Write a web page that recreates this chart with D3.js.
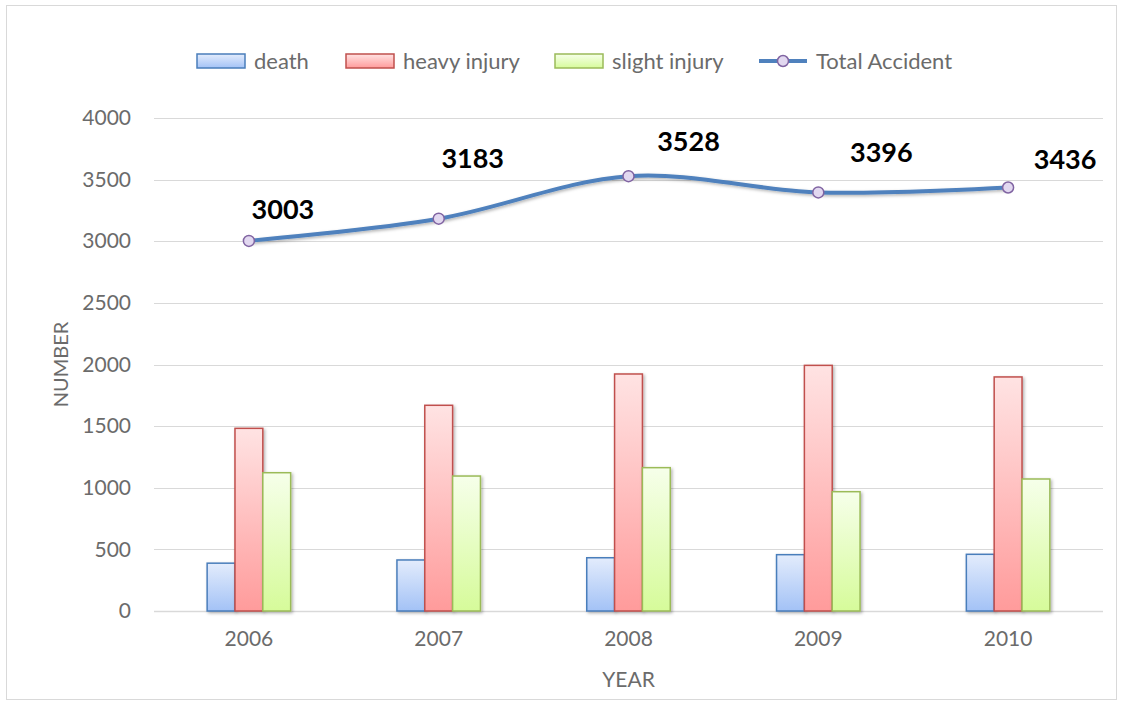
<!DOCTYPE html>
<html>
<head>
<meta charset="utf-8">
<script src="https://cdn.jsdelivr.net/npm/d3@7"></script>
<style>
  body { margin: 0; background: #fff; }
  svg text { font-family: Lato, "Open Sans", sans-serif; }
</style>
</head>
<body>
<svg id="chart" width="1124" height="703"></svg>
<script>
// chart data
const years = ["2006", "2007", "2008", "2009", "2010"];
const death = [388, 414, 432, 457, 460];
const heavyInjury = [1482, 1669, 1923, 1993, 1899];
const slightInjury = [1122, 1095, 1163, 968, 1071];
const totalAccident = [3003, 3183, 3528, 3396, 3436];
const yTicks = [0, 500, 1000, 1500, 2000, 2500, 3000, 3500, 4000];

const seriesNames = ["death", "heavy injury", "slight injury"];
const seriesValues = [death, heavyInjury, slightInjury];

const svg = d3.select("#chart");
const margin = { top: 118, right: 21, bottom: 92, left: 154 },
    width = 1124 - margin.left - margin.right,
    height = 703 - margin.top - margin.bottom;

// outer chart border
svg.append("rect")
    .attr("x", 6.5).attr("y", 5.5)
    .attr("width", 1110).attr("height", 694)
    .attr("fill", "#fff")
    .attr("stroke", "#d9d9d9");

const defs = svg.append("defs");
const palettes = [
    { id: "gDeath", top: "#e3ecfc", bottom: "#a3c2f6", stroke: "#4a7ebb" },
    { id: "gHeavy", top: "#ffe3e3", bottom: "#ff9b9b", stroke: "#c0504d" },
    { id: "gSlight", top: "#f6ffea", bottom: "#d6fb9a", stroke: "#9bbb59" }
];
palettes.forEach(p => {
    const g = defs.append("linearGradient").attr("id", p.id)
        .attr("x1", 0).attr("y1", 0).attr("x2", 0).attr("y2", 1);
    g.append("stop").attr("offset", "0%").attr("stop-color", p.top);
    g.append("stop").attr("offset", "100%").attr("stop-color", p.bottom);
});
const shadow = defs.append("filter").attr("id", "shadow")
    .attr("x", "-20%").attr("y", "-20%").attr("width", "150%").attr("height", "150%");
shadow.append("feDropShadow").attr("dx", 1.5).attr("dy", 1.5).attr("stdDeviation", 1.5)
    .attr("flood-color", "#000").attr("flood-opacity", 0.3);

const g = svg.append("g").attr("transform", `translate(${margin.left},${margin.top})`);

const x = d3.scaleBand().domain(years).range([0, width]);
const y = d3.scaleLinear().domain([0, 4000]).range([height, 0]);

// gridlines
g.selectAll("line.grid")
    .data(yTicks)
    .join("line")
    .attr("class", "grid")
    .attr("x1", 0).attr("x2", width)
    .attr("y1", d => Math.round(y(d)) + 0.5).attr("y2", d => Math.round(y(d)) + 0.5)
    .attr("stroke", "#d9d9d9")
    .attr("stroke-width", d => d === 0 ? 1.5 : 1);

// y axis labels
const yAxis = g.append("g")
    .call(d3.axisLeft(y).tickValues(yTicks).tickFormat(d3.format("d")).tickSize(0).tickPadding(23));
yAxis.select(".domain").remove();
yAxis.selectAll("text").attr("font-size", 21).attr("fill", "#6b6b6b")
    .attr("font-family", "Lato, sans-serif");

// x axis labels
const xAxis = g.append("g")
    .attr("transform", `translate(0,${height})`)
    .call(d3.axisBottom(x).tickSize(0).tickPadding(20));
xAxis.select(".domain").remove();
xAxis.selectAll("text").attr("font-size", 21).attr("fill", "#6b6b6b")
    .attr("font-family", "Lato, sans-serif");

// axis titles
svg.append("text")
    .attr("transform", `translate(68,${margin.top + height / 2}) rotate(-90)`)
    .attr("text-anchor", "middle")
    .attr("font-size", 20).attr("fill", "#6b6b6b")
    .text("NUMBER");
svg.append("text")
    .attr("x", margin.left + width / 2).attr("y", 687)
    .attr("text-anchor", "middle")
    .attr("font-size", 21).attr("fill", "#6b6b6b")
    .text("YEAR");

// grouped bars
const inner = d3.scaleBand().domain(d3.range(3))
    .range([x.bandwidth() * 0.28, x.bandwidth() * 0.72]);

seriesValues.forEach((vals, i) => {
    g.append("g")
        .selectAll("rect")
        .data(vals)
        .join("rect")
        .attr("x", (d, j) => x(years[j]) + inner(i))
        .attr("y", d => y(d))
        .attr("width", inner.bandwidth())
        .attr("height", d => y(0) - y(d))
        .attr("fill", `url(#${palettes[i].id})`)
        .attr("stroke", palettes[i].stroke)
        .attr("stroke-width", 1.5)
        .attr("filter", "url(#shadow)");
});

// total accident line
const line = d3.line()
    .x((d, i) => x(years[i]) + x.bandwidth() / 2)
    .y(d => y(d))
    .curve(d3.curveCardinal.tension(0));

g.append("path")
    .datum(totalAccident)
    .attr("d", line)
    .attr("fill", "none")
    .attr("stroke", "#4f81bd")
    .attr("stroke-width", 4)
    .attr("filter", "url(#shadow)");

g.selectAll("circle.pt")
    .data(totalAccident)
    .join("circle")
    .attr("class", "pt")
    .attr("cx", (d, i) => x(years[i]) + x.bandwidth() / 2)
    .attr("cy", d => y(d))
    .attr("r", 5.5)
    .attr("fill", "#e2d8f0")
    .attr("stroke", "#8064a2")
    .attr("stroke-width", 1.5);

// data labels were nudged by hand in the original
const labelDx = [34, 34, 60, 63, 57];
const labelDy = [-31, -60, -35, -40, -28];
g.selectAll("text.lbl")
    .data(totalAccident)
    .join("text")
    .attr("class", "lbl")
    .attr("x", (d, i) => x(years[i]) + x.bandwidth() / 2 + labelDx[i])
    .attr("y", (d, i) => y(d) + labelDy[i])
    .attr("dy", "0.35em")
    .attr("text-anchor", "middle")
    .attr("font-size", 27)
    .attr("font-weight", "bold")
    .attr("fill", "#000")
    .text(d => d);

// legend
const legendItems = [
    { name: seriesNames[0], x: 197, type: "bar", p: palettes[0] },
    { name: seriesNames[1], x: 346, type: "bar", p: palettes[1] },
    { name: seriesNames[2], x: 555, type: "bar", p: palettes[2] },
    { name: "Total Accident", x: 759, type: "line" }
];
const legend = svg.append("g");
legendItems.forEach(it => {
    const li = legend.append("g").attr("transform", `translate(${it.x},61)`);
    if (it.type === "bar") {
        li.append("rect").attr("x", 0).attr("y", -7).attr("width", 48).attr("height", 14)
            .attr("fill", `url(#${it.p.id})`).attr("stroke", it.p.stroke).attr("stroke-width", 1.5);
    } else {
        li.append("line").attr("x1", 0).attr("x2", 48).attr("y1", 0).attr("y2", 0)
            .attr("stroke", "#4f81bd").attr("stroke-width", 4);
        li.append("circle").attr("cx", 24).attr("cy", 0).attr("r", 5.5)
            .attr("fill", "#e2d8f0").attr("stroke", "#8064a2").attr("stroke-width", 1.5);
    }
    li.append("text").attr("x", 57).attr("y", 0).attr("dy", "0.35em")
        .attr("font-size", 22).attr("fill", "#6b6b6b").text(it.name);
});
</script>
</body>
</html>
